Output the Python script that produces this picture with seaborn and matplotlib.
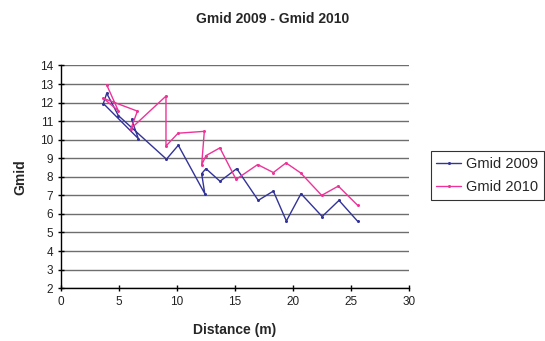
import matplotlib
matplotlib.use("Agg")
import matplotlib.pyplot as plt
import seaborn as sns
import pandas as pd

# ---- data ----
dist_2009 = [6.1, 6.68, 3.67, 3.96, 4.96, 9.1, 10.12, 12.4, 12.13, 12.5,
             13.71, 15.15, 17.0, 18.3, 19.42, 20.68, 22.5, 23.95, 25.56]
gmid_2009 = [11.1, 10.06, 11.95, 12.5, 11.3, 8.95, 9.7, 7.09, 8.17, 8.44,
             7.76, 8.44, 6.73, 7.23, 5.62, 7.09, 5.86, 6.73, 5.6]

dist_2010 = [3.96, 4.96, 3.67, 6.6, 6.05, 9.06, 9.06, 10.1, 12.36, 12.13,
             12.5, 13.7, 15.09, 16.95, 18.3, 19.39, 20.65, 22.46, 23.89, 25.56]
gmid_2010 = [12.95, 11.56, 12.23, 11.54, 10.6, 12.35, 9.66, 10.35, 10.45, 8.64,
             9.14, 9.56, 7.86, 8.66, 8.23, 8.75, 8.21, 7.0, 7.5, 6.46]

series_names = ["Gmid 2009", "Gmid 2010"]
x_ticks = [0, 5, 10, 15, 20, 25, 30]
y_ticks = list(range(2, 15))

df = pd.concat([
    pd.DataFrame({"Distance": dist_2009, "Gmid": gmid_2009, "Series": series_names[0],
                  "order": range(len(dist_2009))}),
    pd.DataFrame({"Distance": dist_2010, "Gmid": gmid_2010, "Series": series_names[1],
                  "order": range(len(dist_2010))}),
], ignore_index=True)

sns.set_theme(style="white")
plt.rcParams["font.family"] = ["Liberation Sans", "DejaVu Sans"]

fig = plt.figure(figsize=(5.45, 3.41), dpi=100)
ax = fig.add_axes([0.1114, 0.155, 0.751 - 0.1114, 0.808 - 0.155])

palette = {"Gmid 2009": "#333399", "Gmid 2010": "#EE3399"}
sns.lineplot(data=df, x="Distance", y="Gmid", hue="Series", units="Series",
             estimator=None, sort=False, palette=palette, linewidth=1.0,
             marker="o", markersize=2.2, markeredgewidth=0, ax=ax, legend=True)

ax.set_xlim(0, 30)
ax.set_ylim(2, 14)
ax.set_xticks(x_ticks)
ax.set_yticks(y_ticks)
ax.yaxis.grid(True, color="#6e6e6e", linewidth=1.0)
ax.xaxis.grid(False)
ax.set_axisbelow(True)
for s in ["top", "right"]:
    ax.spines[s].set_visible(False)
for s in ["left", "bottom"]:
    ax.spines[s].set_color("black")
    ax.spines[s].set_linewidth(1.0)
ax.tick_params(axis="both", direction="inout", length=5, width=1.0, color="black",
               labelsize=8.5, labelcolor="#222222", left=True, bottom=True, pad=3)

ax.set_xlabel("Distance (m)", fontsize=10, fontweight="bold", labelpad=11)
ax.set_ylabel("Gmid", fontsize=10, fontweight="bold", labelpad=9)

fig.text(0.5, 0.945, "Gmid 2009 - Gmid 2010", ha="center", va="center",
         fontsize=10, fontweight="bold")

handles, labels = ax.get_legend_handles_labels()
ax.get_legend().remove()
leg = fig.legend(handles, labels, loc="upper left", bbox_to_anchor=(0.79, 0.556),
                 frameon=True, fancybox=False, shadow=False, fontsize=10.5,
                 handlelength=1.7, handletextpad=0.35, borderpad=0.4,
                 labelspacing=0.6, borderaxespad=0)
leg.get_frame().set_edgecolor("black")
leg.get_frame().set_linewidth(0.8)

fig.savefig("out.png", dpi=100)
